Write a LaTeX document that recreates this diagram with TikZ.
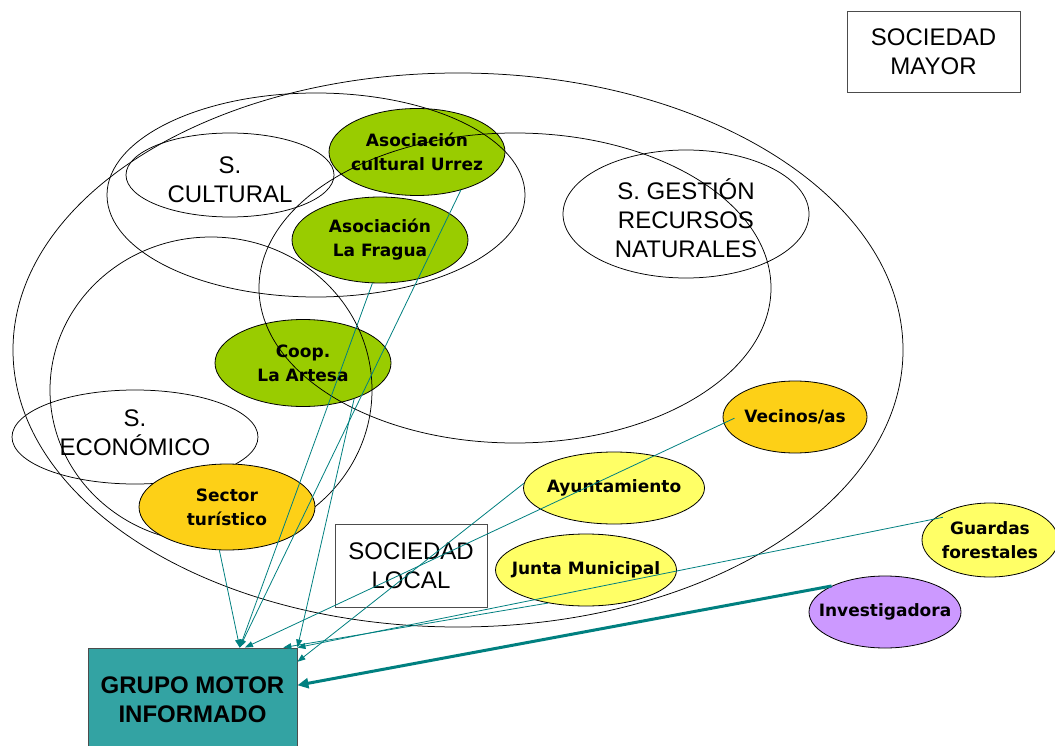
\documentclass[tikz,border=0pt]{standalone}
\usepackage{fontspec}
\setmainfont{Liberation Sans}
\newfontfamily\orgfont{DejaVu Sans}
\usetikzlibrary{shapes.geometric,arrows.meta}

\definecolor{verde}{RGB}{153,204,0}
\definecolor{naranja}{RGB}{253,208,23}
\definecolor{amarillo}{RGB}{255,255,102}
\definecolor{lila}{RGB}{204,153,255}
\definecolor{turquesa}{RGB}{51,163,163}
\definecolor{flecha}{RGB}{0,128,128}

\tikzset{
  grupo/.style={ellipse, draw=black, line width=0.8pt, inner sep=0pt},
  rotulo/.style={align=center, font=\orgfont\bfseries\fontsize{17}{24}\selectfont},
  sector/.style={ellipse, draw=black, line width=0.75pt, inner sep=0pt},
  textosector/.style={align=center, font=\fontsize{24}{29}\selectfont},
  caja/.style={draw=black!70, line width=0.9pt, align=center, inner sep=0pt, font=\fontsize{24}{29}\selectfont},
  conector/.style={draw=flecha, line width=0.8pt, -{Triangle[length=8pt,width=6pt]}}
}

\begin{document}
\begin{tikzpicture}[x=1pt,y=-1pt]
        \path[use as bounding box, fill=white] (0,0) rectangle (1055,746);

        % Cultural groups (under the sector outlines)
        \node[grupo, fill=verde, minimum width=176pt, minimum height=87pt,
          label={[rotulo]center:Asociación\\cultural Urrez}] (urrez) at (417,152) {};
        \node[grupo, fill=verde, minimum width=176pt, minimum height=86pt,
          label={[rotulo]center:Asociación\\La Fragua}] (fragua) at (380,240) {};
        \node[grupo, fill=verde, minimum width=176pt, minimum height=87pt,
          label={[rotulo]center:Coop.\\La Artesa}] (coop) at (303,363) {};

        % Draw the society and sector outlines
        \draw[line width=0.75pt] (458,350) ellipse [x radius=445pt, y radius=277pt];
        \draw[line width=0.75pt] (316,195) ellipse [x radius=209pt, y radius=102pt];
        \draw[line width=0.75pt] (515,288) ellipse [x radius=256pt, y radius=155pt];
        \draw[line width=0.75pt] (211,390) ellipse [x radius=161pt, y radius=153pt];
        \node[sector, minimum width=208pt, minimum height=84pt,
          label={[textosector, yshift=-4.5pt]center:S.\\CULTURAL}] (cultural) at (230,175) {};
        \node[sector, minimum width=246pt, minimum height=128pt,
          label={[textosector, yshift=-4.5pt]center:S. GESTIÓN\\RECURSOS\\NATURALES}] (gestion) at (686,214) {};
        \node[sector, minimum width=246pt, minimum height=94pt,
          label={[textosector, yshift=4pt]center:S.\\ECONÓMICO}] (economico) at (135,437) {};

        % Other local groups
        \node[grupo, fill=naranja, minimum width=176pt, minimum height=86pt,
          label={[rotulo]center:Sector\\turístico}] (turistico) at (227,507) {};
        \node[grupo, fill=naranja, minimum width=144pt, minimum height=72pt,
          label={[rotulo]center:Vecinos/as}] (vecinos) at (795,417) {};
        \node[grupo, fill=amarillo, minimum width=181pt, minimum height=72pt,
          label={[rotulo]center:Ayuntamiento}] (ayto) at (614,488) {};
        \node[grupo, fill=amarillo, minimum width=181pt, minimum height=72pt,
          label={[rotulo]center:Junta Municipal}] (junta) at (586,570) {};
        \node[grupo, fill=amarillo, minimum width=136pt, minimum height=74pt,
          label={[rotulo]center:Guardas\\forestales}] (guardas) at (990,540) {};
        \node[grupo, fill=lila, minimum width=152pt, minimum height=72pt,
          label={[rotulo]center:Investigadora}] (invest) at (885,612) {};

        % Boxes
        \node[caja, fill=white, minimum width=173pt, minimum height=81pt] (mayor) at (933.5,52) {SOCIEDAD\\MAYOR};
        \node[caja, fill=white, minimum width=152pt, minimum height=83pt] (local) at (411,565.5) {SOCIEDAD\\LOCAL};
        \node[caja, fill=turquesa, minimum width=209pt, minimum height=104pt,
          font=\bfseries\fontsize{24}{29}\selectfont] (motor) at (192.5,700) {GRUPO MOTOR\\INFORMADO};

        % Draw the links to the motor group
        \draw[conector] (turistico.-100) -- (motor.48);
        \draw[conector] (fragua.-100) -- (motor.48);
        \draw[conector] (urrez.-41) -- (motor.48);
        \draw[conector] (coop.-35) -- (motor.north east);
        \draw[conector, shorten <=-12pt] (vecinos.185) -- (motor.45);
        \draw[conector] (ayto.177) -- (motor.20);
        \draw[conector] (junta.221) -- (motor.30);
        \draw[conector, shorten <=-10pt] (guardas.160) -- (motor.north east);
        \draw[conector, line width=3pt, -{Triangle[length=11pt,width=10pt]}] (invest.154) -- (motor.8);
\end{tikzpicture}
\end{document}
